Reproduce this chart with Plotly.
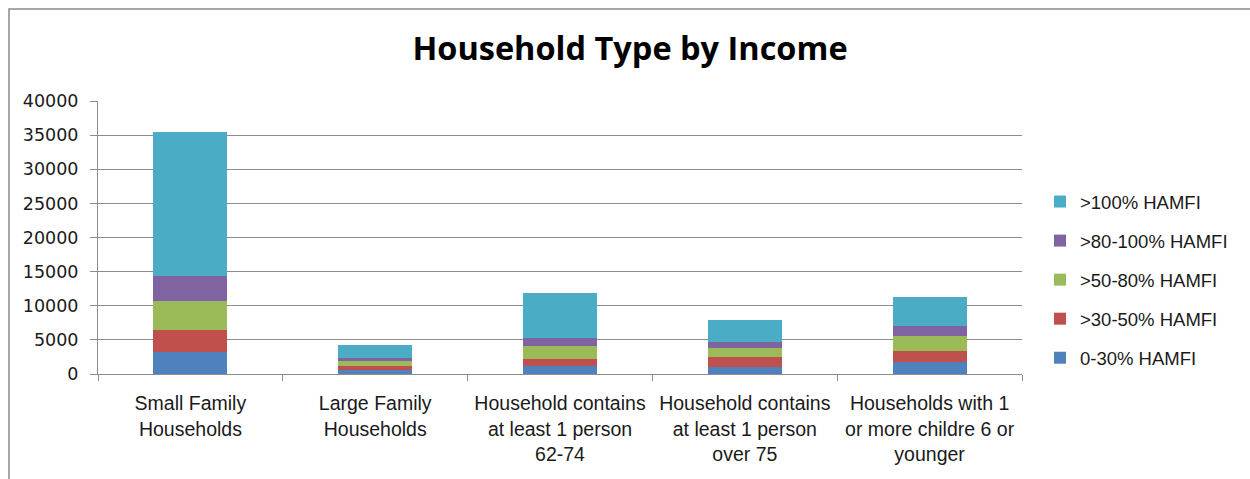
import plotly.graph_objects as go

# Household categories (x axis)
categories = [
    "Small Family<br>Households",
    "Large Family<br>Households",
    "Household contains<br>at least 1 person<br>62-74",
    "Household contains<br>at least 1 person<br>over 75",
    "Households with 1<br>or more childre 6 or<br>younger",
]

# Households by income bracket, stacked bottom to top
income_0_30 = [3200, 650, 1100, 1000, 1750]
income_30_50 = [3200, 480, 1130, 1480, 1650]
income_50_80 = [4300, 730, 1900, 1400, 2180]
income_80_100 = [3600, 440, 1210, 780, 1410]
income_100_plus = [21200, 1900, 6500, 3300, 4320]

series_names = ["0-30% HAMFI", ">30-50% HAMFI", ">50-80% HAMFI", ">80-100% HAMFI", ">100% HAMFI"]
series_values = [income_0_30, income_30_50, income_50_80, income_80_100, income_100_plus]
series_colors = ["#4F81BD", "#C0504D", "#9BBB59", "#8064A2", "#4BACC6"]

y_ticks = [0, 5000, 10000, 15000, 20000, 25000, 30000, 35000, 40000]

FONT = "Liberation Sans"
TEXT = "#1a1a1a"
GRID = "#8c8c8c"

fig = go.Figure()
n = len(series_names)
for i, (name, vals, color) in enumerate(zip(series_names, series_values, series_colors)):
    fig.add_trace(go.Bar(
        x=categories, y=vals, name=name, legendgroup=name,
        legendrank=n - i,  # top of the stack listed first
        marker=dict(color=color, line=dict(width=0)),
    ))

L, R, T, B = 98, 228, 101, 105
W, H = 1250, 479
pw, ph = W - L - R, H - T - B

# outer chart frame, expressed in plot-area (paper) units
fx0 = (9 - L) / pw
fx1 = (W + 10 - L) / pw
fy1 = (H - B - 9) / ph
fy0 = (H - B - (H + 10)) / ph

fig.update_layout(
    width=W, height=H,
    margin=dict(l=L, r=R, t=T, b=B),
    barmode="stack",
    bargap=0.6,
    paper_bgcolor="white",
    plot_bgcolor="white",
    font=dict(family=FONT, color=TEXT, size=15),
    title=dict(
        text="<b>Household Type by Income</b>",
        x=630 / W, xanchor="center",
        y=1 - 48.5 / H, yanchor="middle",
        font=dict(family="Open Sans", size=32.5, color="#000000"),
    ),
    legend=dict(
        x=(1040 - L) / pw, xanchor="left",
        y=(H - B - 183) / ph, yanchor="top",
        traceorder="grouped",
        tracegroupgap=12,
        font=dict(family=FONT, size=18.5, color=TEXT),
        bgcolor="rgba(0,0,0,0)",
    ),
    xaxis=dict(
        type="category",
        showline=True, linecolor=GRID, linewidth=1,
        ticks="outside", ticklen=6, tickcolor=GRID, tickson="boundaries",
        ticklabelstandoff=12,
        tickfont=dict(family=FONT, size=19.5, color=TEXT),
        showgrid=False,
    ),
    yaxis=dict(
        range=[0, 40000],
        tickvals=y_ticks,
        ticktext=[str(v) for v in y_ticks],
        showline=True, linecolor=GRID, linewidth=1,
        ticks="outside", ticklen=7, tickcolor=GRID,
        ticklabelstandoff=8,
        showgrid=True, gridcolor=GRID, gridwidth=1,
        zeroline=False,
        tickfont=dict(family="DejaVu Sans", size=17.5, color=TEXT),
    ),
    shapes=[dict(
        type="rect", xref="paper", yref="paper",
        x0=fx0, x1=fx1, y0=fy0, y1=fy1,
        line=dict(color="#8a8a8a", width=1.5),
        fillcolor="rgba(0,0,0,0)", layer="below",
    )],
)

fig.write_html("out.html")
